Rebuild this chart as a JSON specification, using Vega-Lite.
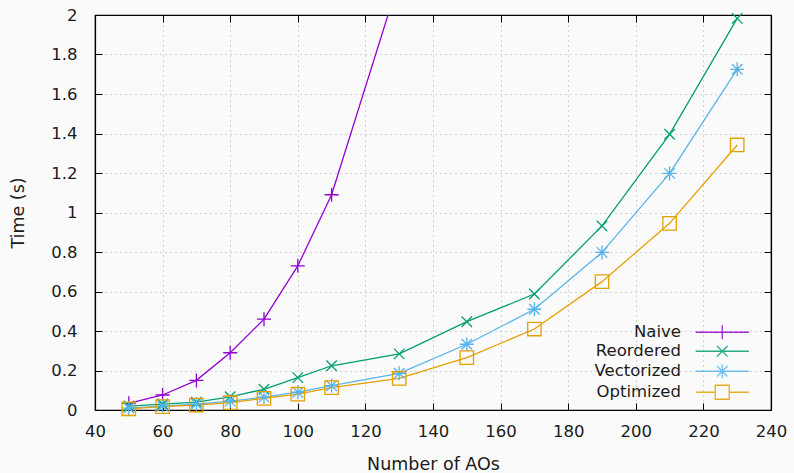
{
  "$schema": "https://vega.github.io/schema/vega-lite/v6.json",
  "width": 676,
  "height": 395,
  "autosize": "none",
  "padding": {"left": 95, "top": 15, "right": 23, "bottom": 63},
  "background": "#fafafa",
  "config": {
    "font": "DejaVu Sans",
    "view": {"stroke": "#000000", "strokeWidth": 1.2, "fill": "#fafafa"},
    "axis": {"labelFont": "DejaVu Sans", "titleFont": "DejaVu Sans", "labelFontSize": 16.5, "titleFontSize": 17.5, "titleFontWeight": "normal", "labelColor": "#1a1a1a", "titleColor": "#1a1a1a", "domainColor": "#000000", "tickColor": "#000000", "labelFlush": false, "labelOverlap": false},
    "legend": {"labelFont": "DejaVu Sans", "labelFontSize": 16.5, "labelColor": "#1a1a1a", "symbolSize": 196, "symbolStrokeWidth": 1.3, "rowPadding": 1, "padding": 0, "labelLimit": 300},
    "point": {"filled": false, "strokeWidth": 1.3, "size": 196, "opacity": 1, "clip": true}
  },
  "data": {"values": [
    {"series": "Naive", "n": 50, "t": 0.034},
    {"series": "Naive", "n": 60, "t": 0.076},
    {"series": "Naive", "n": 70, "t": 0.15},
    {"series": "Naive", "n": 80, "t": 0.29},
    {"series": "Naive", "n": 90, "t": 0.46},
    {"series": "Naive", "n": 100, "t": 0.73},
    {"series": "Naive", "n": 110, "t": 1.09},
    {"series": "Naive", "n": 130, "t": 2.18},
    {"series": "Reordered", "n": 50, "t": 0.02},
    {"series": "Reordered", "n": 60, "t": 0.03},
    {"series": "Reordered", "n": 70, "t": 0.04},
    {"series": "Reordered", "n": 80, "t": 0.067},
    {"series": "Reordered", "n": 90, "t": 0.105},
    {"series": "Reordered", "n": 100, "t": 0.164},
    {"series": "Reordered", "n": 110, "t": 0.224},
    {"series": "Reordered", "n": 130, "t": 0.284},
    {"series": "Reordered", "n": 150, "t": 0.447},
    {"series": "Reordered", "n": 170, "t": 0.587},
    {"series": "Reordered", "n": 190, "t": 0.932},
    {"series": "Reordered", "n": 210, "t": 1.396},
    {"series": "Reordered", "n": 230, "t": 1.983},
    {"series": "Vectorized", "n": 50, "t": 0.01},
    {"series": "Vectorized", "n": 60, "t": 0.02},
    {"series": "Vectorized", "n": 70, "t": 0.03},
    {"series": "Vectorized", "n": 80, "t": 0.045},
    {"series": "Vectorized", "n": 90, "t": 0.065},
    {"series": "Vectorized", "n": 100, "t": 0.09},
    {"series": "Vectorized", "n": 110, "t": 0.123},
    {"series": "Vectorized", "n": 130, "t": 0.186},
    {"series": "Vectorized", "n": 150, "t": 0.333},
    {"series": "Vectorized", "n": 170, "t": 0.51},
    {"series": "Vectorized", "n": 190, "t": 0.798},
    {"series": "Vectorized", "n": 210, "t": 1.198},
    {"series": "Vectorized", "n": 230, "t": 1.725},
    {"series": "Optimized", "n": 50, "t": 0.006},
    {"series": "Optimized", "n": 60, "t": 0.017},
    {"series": "Optimized", "n": 70, "t": 0.025},
    {"series": "Optimized", "n": 80, "t": 0.037},
    {"series": "Optimized", "n": 90, "t": 0.059},
    {"series": "Optimized", "n": 100, "t": 0.08},
    {"series": "Optimized", "n": 110, "t": 0.113},
    {"series": "Optimized", "n": 130, "t": 0.16},
    {"series": "Optimized", "n": 150, "t": 0.265},
    {"series": "Optimized", "n": 170, "t": 0.41},
    {"series": "Optimized", "n": 190, "t": 0.65},
    {"series": "Optimized", "n": 210, "t": 0.945},
    {"series": "Optimized", "n": 230, "t": 1.342}
  ]},
  "layer": [
    {
      "mark": {"type": "line", "strokeWidth": 1.3, "clip": true},
      "encoding": {
        "x": {"field": "n", "type": "quantitative", "scale": {"domain": [40, 240], "nice": false}, "axis": {"title": "Number of AOs", "values": [40, 60, 80, 100, 120, 140, 160, 180, 200, 220, 240], "grid": true, "gridColor": "#a8a8a8", "gridDash": [1, 4], "gridWidth": 1, "tickSize": -7, "labelPadding": 20, "titlePadding": 16, "domainWidth": 1.2}},
        "y": {"field": "t", "type": "quantitative", "scale": {"domain": [0, 2], "nice": false}, "axis": {"title": "Time (s)", "values": [0, 0.2, 0.4, 0.6, 0.8, 1, 1.2, 1.4, 1.6, 1.8, 2], "format": ".1~f", "grid": true, "gridColor": "#a8a8a8", "gridDash": [1, 4], "gridWidth": 1, "tickSize": -7, "labelPadding": 25, "titlePadding": 23, "domainWidth": 1.2}},
        "color": {"field": "series", "type": "nominal", "sort": ["Naive", "Reordered", "Vectorized", "Optimized"], "scale": {"domain": ["Naive", "Reordered", "Vectorized", "Optimized"], "range": ["#9400d3", "#009e73", "#56b4e9", "#e69f00"]},
          "legend": {"title": null, "orient": "none", "legendX": 619, "legendY": 309,
            "encode": {
              "labels": {"update": {"x": {"value": -33}, "align": {"value": "right"}}},
              "symbols": {"update": {
                "fill": {"value": "transparent"},
                "strokeWidth": {"value": 1.3},
                "opacity": {"value": 0.85},
                "shape": {"signal": "datum.value === 'Naive' ? 'M-3.8,0L3.8,0M0,-1L0,1' : datum.value === 'Reordered' ? 'M-3.8,0L3.8,0M-0.75,-0.75L0.75,0.75M-0.75,0.75L0.75,-0.75' : datum.value === 'Vectorized' ? 'M-3.8,0L3.8,0M0,-1L0,1M-0.75,-0.75L0.75,0.75M-0.75,0.75L0.75,-0.75' : 'M-3.8,0L-1,0M1,0L3.8,0M-1,-1L1,-1L1,1L-1,1Z'"}
              }}
            }
          }
        }
      }
    },
    {
      "transform": [{"filter": "datum.series === 'Naive'"}],
      "mark": {"type": "point", "shape": "M-1,0L1,0M0,-1L0,1", "color": "#9400d3"},
      "encoding": {
        "x": {"field": "n", "type": "quantitative", "axis": null},
        "y": {"field": "t", "type": "quantitative", "axis": null}
      }
    },
    {
      "transform": [{"filter": "datum.series === 'Reordered'"}],
      "mark": {"type": "point", "shape": "M-0.75,-0.75L0.75,0.75M-0.75,0.75L0.75,-0.75", "color": "#009e73"},
      "encoding": {
        "x": {"field": "n", "type": "quantitative", "axis": null},
        "y": {"field": "t", "type": "quantitative", "axis": null}
      }
    },
    {
      "transform": [{"filter": "datum.series === 'Vectorized'"}],
      "mark": {"type": "point", "shape": "M-1,0L1,0M0,-1L0,1M-0.75,-0.75L0.75,0.75M-0.75,0.75L0.75,-0.75", "color": "#56b4e9"},
      "encoding": {
        "x": {"field": "n", "type": "quantitative", "axis": null},
        "y": {"field": "t", "type": "quantitative", "axis": null}
      }
    },
    {
      "transform": [{"filter": "datum.series === 'Optimized'"}],
      "mark": {"type": "point", "shape": "square", "color": "#e69f00", "size": 180},
      "encoding": {
        "x": {"field": "n", "type": "quantitative", "axis": null},
        "y": {"field": "t", "type": "quantitative", "axis": null}
      }
    },
    {
      "mark": {"type": "point", "opacity": 0},
      "encoding": {
        "x": {"field": "n", "type": "quantitative", "axis": {"orient": "top", "title": null, "labels": false, "grid": false, "values": [40, 60, 80, 100, 120, 140, 160, 180, 200, 220, 240], "tickSize": -7, "domainWidth": 1.2}},
        "y": {"field": "t", "type": "quantitative", "axis": {"orient": "right", "title": null, "labels": false, "grid": false, "values": [0, 0.2, 0.4, 0.6, 0.8, 1, 1.2, 1.4, 1.6, 1.8, 2], "tickSize": -7, "domainWidth": 1.2}}
      }
    }
  ],
  "resolve": {"axis": {"x": "independent", "y": "independent"}}
}
